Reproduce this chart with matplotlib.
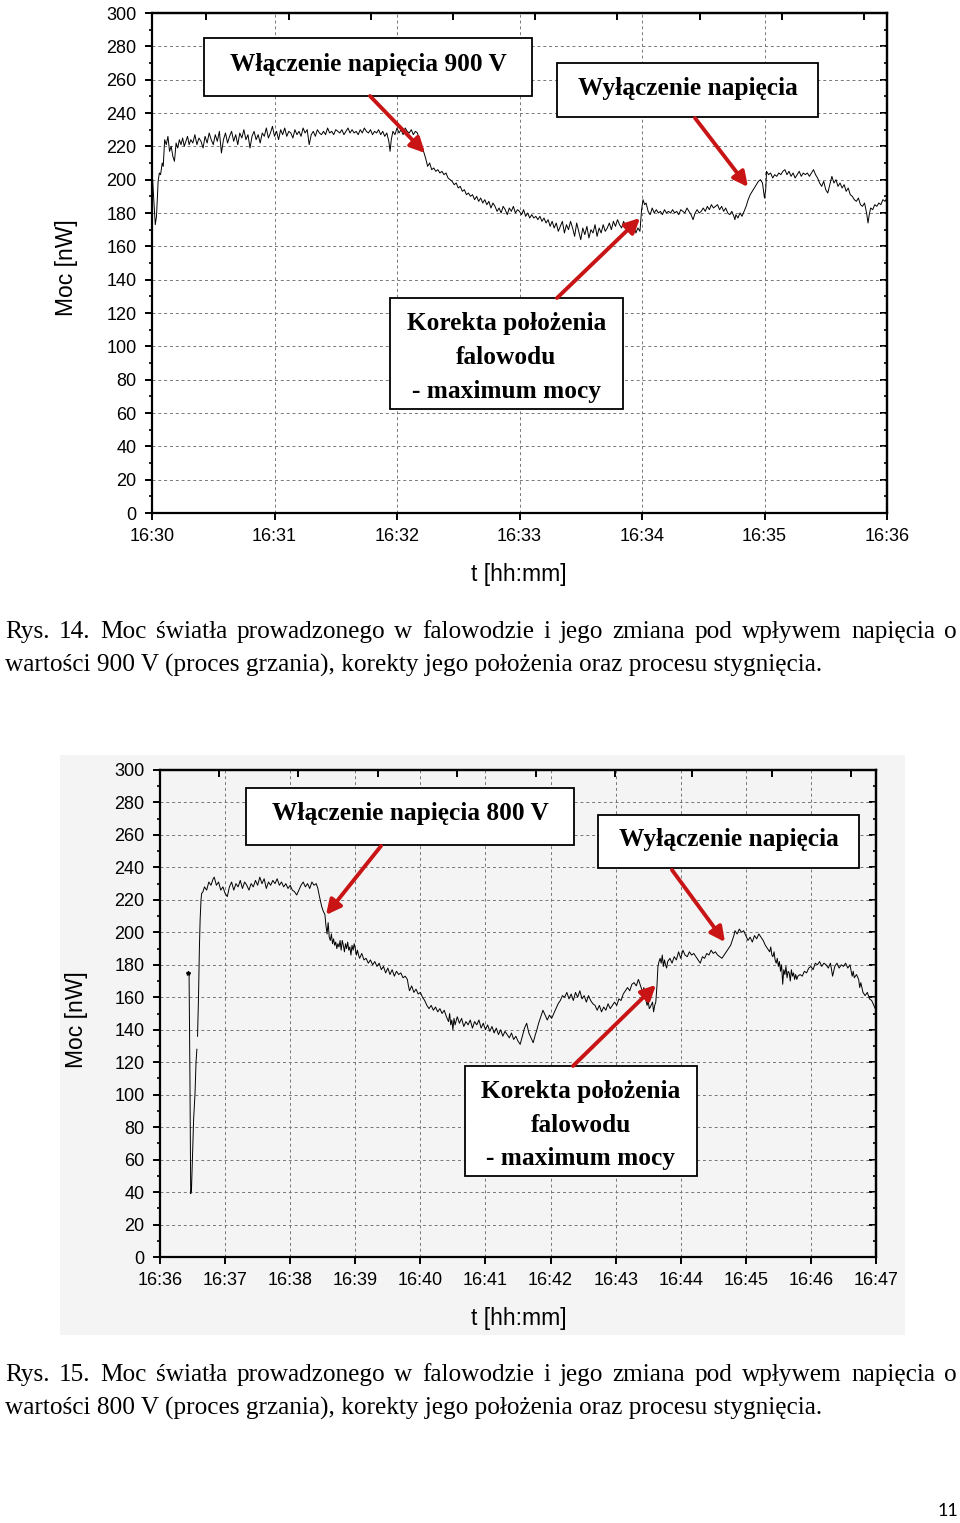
import numpy as np
import matplotlib
matplotlib.use("Agg")
import matplotlib.pyplot as plt
from matplotlib.patches import Rectangle, FancyArrowPatch

# --- data -----------------------------------------------------------------
# Fig. 14: seconds after 16:30, power in nW
top_t = [0.3, 1.0, 1.6, 2.2, 3.0, 3.6, 4.2, 5.0, 5.5, 6.2, 7.0, 7.8, 8.6, 9.4, 10.2,
         11.0, 11.8, 12.6, 13.4, 14.2, 15.0, 15.8, 16.6, 17.4, 18.2, 19, 20, 21, 22, 23,
         24, 25, 26, 27, 28, 29, 30, 31, 32, 33, 34, 35, 36, 37, 38, 39, 40, 41, 42, 43,
         44, 45, 46, 47, 48, 49, 50, 51, 52, 53, 54, 55, 56, 57, 58, 59, 60, 61, 62, 63,
         64, 65, 66, 67, 68, 69, 70, 71, 72, 73, 74, 75, 76, 77, 78, 79, 80, 81, 82, 83,
         84, 85, 86, 87, 88, 89, 90, 91, 92, 93, 94, 95, 96, 97, 98, 99, 100, 101, 102,
         103, 104, 105, 106, 107, 108, 109, 110, 111, 112, 113, 114, 115, 116, 116.6,
         117.2, 118, 119, 120, 121, 122, 123, 124, 125, 126, 127, 128, 129, 130, 131, 132,
         133, 134, 135, 136, 137, 138, 139, 140, 141, 142, 143, 144, 145, 146, 147, 148,
         149, 150, 151, 152, 153, 154, 155, 156, 157, 158, 159, 160, 161, 162, 163, 164,
         165, 166, 167, 168, 169, 170, 171, 172, 173, 174, 175, 176, 177, 178, 179, 180,
         181, 182, 183, 184, 185, 186, 187, 188, 189, 190, 191, 192, 193, 194, 195, 196,
         197, 198, 199, 200, 201, 202, 203, 204, 205, 206, 207, 208, 209, 210, 211, 212,
         213, 214, 215, 216, 217, 218, 219, 220, 221, 222, 223, 224, 225, 226, 227, 228,
         229, 230, 231, 232, 233, 234, 235, 236, 237, 238, 239, 239.8, 240.5, 241.3, 242,
         243, 244, 245, 246, 247, 248, 249, 250, 251, 252, 253, 254, 255, 256, 257, 258,
         259, 260, 261, 262, 263, 264, 265, 266, 267, 268, 269, 270, 271, 272, 273, 274,
         275, 276, 277, 278, 279, 280, 281, 282, 283, 284, 285, 285.5, 286, 287, 288, 289,
         290, 291, 292, 293, 294, 295, 296, 297, 298, 299, 300, 300.6, 301, 302, 303, 304,
         305, 306, 307, 308, 309, 310, 311, 312, 313, 314, 315, 316, 317, 318, 319, 320,
         321, 322, 323, 324, 325, 326, 327, 328, 329, 330, 331, 332, 333, 334, 335, 336,
         337, 338, 339, 340, 341, 342, 343, 344, 345, 346, 347, 348, 349, 350, 350.7,
         351.3, 352, 353, 354, 355, 356, 357, 358, 359, 360]
top_p = [200, 186, 173, 178, 199, 204, 203, 210, 208, 224, 221, 226, 217, 220, 214,
         211, 222, 219, 224, 221, 225, 220, 223, 226, 221, 224, 222, 227, 221, 225,
         223, 219, 226, 222, 228, 224, 221, 227, 223, 229, 216, 224, 228, 222, 226, 229, 223, 227, 221, 228,
         225, 230, 224, 227, 219, 226, 229, 224, 227, 222, 228, 226, 231, 225, 228, 232, 226, 229, 224, 230,
         227, 231, 226, 229, 228, 225, 230, 227, 229, 226, 231, 228, 230, 221, 227, 229, 226, 230, 228, 227,
         229, 227, 231, 228, 229, 227, 230, 229, 228, 230, 227, 229, 231, 228, 230, 228, 229, 227, 230,
         228, 231, 229, 228, 230, 227, 229, 228, 230, 227, 229, 226, 228, 223, 217,
         224, 229, 227, 231, 228, 230, 227, 231, 229, 228, 230, 227, 229, 228, 224, 220,
         217, 213, 208, 210, 206, 207, 205, 206, 204, 205, 203, 204, 201, 200, 199, 197,
         198, 195, 196, 193, 194, 191, 192, 190, 191, 188, 190, 187, 189, 186, 188, 185,
         187, 183, 186, 184, 181, 183, 180, 184, 182, 179, 183, 181, 184, 180, 182, 181,
         179, 182, 178, 180, 177, 179, 177, 178, 176, 178, 175, 177, 174, 176, 172, 175,
         171, 174, 169, 172, 175, 168, 173, 170, 175, 171, 166, 174, 169, 164, 171, 167,
         172, 165, 170, 168, 173, 166, 171, 168, 173, 169, 171, 174, 170, 175, 172, 176,
         173, 171, 175, 172, 169, 173, 170, 172, 168, 171, 169, 182, 188, 185, 186,
         181, 179, 183, 180, 182, 180, 181, 179, 182, 180, 181, 180, 182, 180, 181, 179,
         182, 181, 180, 183, 181, 179, 176, 180, 182, 180, 181, 183, 181, 184, 182, 185,
         183, 184, 185, 182, 184, 181, 183, 180, 179, 181, 178, 176, 179, 177, 180, 178,
         181, 184, 188, 191, 193, 195, 197, 199, 200, 198, 189, 194, 205, 203, 204, 201,
         203, 202, 204, 203, 205, 206, 203, 205, 202, 204, 201, 203, 205, 202, 204, 203,
         204, 202, 204, 206, 203, 201, 198, 196, 199, 194, 192, 197, 202, 198, 200, 196,
         198, 195, 197, 193, 195, 191, 190, 188, 187, 189, 185, 184, 186, 180, 174,
         179, 183, 182, 185, 184, 186, 185, 188, 187, 189]

# Fig. 15: seconds after 16:36, power in nW (nan = break in the trace)
bot_t = [26.1, 26.8, 27.6, 28.3, 29.0, 30.0, 31.0, 32.3, 33.2, 34.0, 34.3,
         34.6, 35.5, 36.3, 37.0, 37.8, 38.4, 39.6, 41, 43, 45, 47, 49, 50, 52, 54, 56, 58,
         60, 62, 64, 66, 68, 70, 72, 74, 76, 78, 80, 82, 84, 86, 88, 90, 92, 94, 96, 98,
         100, 102, 104, 106, 108, 110, 112, 114, 116, 118, 120, 122, 124, 126, 128, 130,
         132, 134, 136, 138, 140, 142, 144, 145.5, 147, 149, 150.5, 152, 153, 154, 155,
         156, 157, 158, 159, 160, 161, 162, 163, 164, 165, 166, 167, 168, 169, 170, 171,
         172, 173, 174, 175, 176, 177, 178, 179, 180, 181, 182, 183, 184, 186, 188, 190,
         192, 194, 196, 198, 200, 202, 204, 206, 208, 210, 212, 214, 216, 218, 220, 222,
         224, 226, 228, 229, 230, 232, 234, 236, 238, 240, 242, 244, 246, 248, 250, 252,
         254, 256, 258, 260, 262, 264, 266, 267, 268, 269, 270, 271, 272, 274, 276, 278,
         280, 282, 284, 286, 288, 290, 292, 294, 296, 298, 300, 302, 304, 306, 308, 310,
         312, 314, 316, 318, 320, 322, 324, 326, 328, 330, 332, 334, 336, 338, 340, 342,
         344, 346, 347, 349, 351, 353, 355, 357, 359, 361, 363, 365, 367, 369, 371, 373,
         375, 377, 379, 381, 383, 385, 387, 389, 391, 393, 395, 397, 399, 401, 403, 405,
         407, 409, 411, 413, 415, 417, 419, 421, 423, 425, 427, 429, 431, 433, 435, 437,
         439, 441, 443, 445, 446, 447, 448, 449, 450, 451, 452, 454, 455, 456, 457, 458,
         459, 460, 461, 462, 463, 464, 465, 466, 467, 468, 470, 472, 474, 476, 478, 480,
         482, 484, 486, 488, 490, 492, 494, 496, 498, 500, 502, 504, 506, 508, 510, 512,
         514, 516, 518, 520, 522, 524, 526, 527, 528, 529, 530, 532, 534, 536, 538, 540,
         542, 544, 546, 548, 550, 552, 554, 556, 558, 560, 562, 563, 564, 565, 566, 567,
         568, 569, 570, 571, 572, 573, 574, 575, 576, 577, 578, 579, 580, 581, 582, 583,
         584, 585, 586, 587, 588, 590, 592, 594, 596, 598, 600, 602, 604, 606, 608, 610,
         612, 614, 616, 618, 620, 621, 622, 624, 626, 628, 630, 632, 634, 636, 638, 639,
         640, 642, 644, 645, 646, 648, 650, 652, 654, 656, 658, 660]
bot_p = [175, 174, 110, 39, 41, 62, 85, 101, 120, 128, np.nan,
         136, 160, 190, 208, 220, 224, 225, 228, 226, 231, 229, 233, 234, 229, 231, 226, 228,
         224, 222, 228, 231, 226, 230, 228, 232, 227, 231, 229, 226, 230, 228, 232, 229, 234, 230, 233, 227,
         231, 229, 232, 230, 233, 229, 231, 228, 230, 227, 229, 226, 225, 223, 226, 229,
         231, 228, 230, 227, 231, 229, 230, 227, 222, 216, 213, 211, 204, 199, 206,
         197, 195, 199, 193, 196, 192, 194, 190, 193, 191, 195, 189, 195, 192, 188, 193,
         190, 194, 189, 191, 186, 192, 189, 193, 190, 186, 189, 186, 184, 187, 183, 184,
         181, 183, 180, 182, 179, 181, 177, 179, 175, 178, 174, 177, 173, 176, 174, 175,
         172, 173, 171, 167, 164, 167, 163, 165, 162, 163, 160, 158, 155, 153, 155, 152,
         154, 151, 153, 150, 152, 148, 145, 150, 143, 146, 140, 147, 143, 148, 144, 147,
         142, 145, 143, 146, 141, 145, 143, 146, 141, 144, 140, 143, 139, 142, 138, 141,
         137, 140, 136, 139, 137, 135, 138, 134, 136, 133, 131, 136, 141, 144, 138, 135,
         132, 137, 139, 144, 148, 152, 149, 146, 149, 147, 150, 153, 156, 158, 161, 160,
         163, 159, 162, 158, 163, 160, 164, 159, 161, 157, 161, 158, 156, 155, 152, 155,
         151, 154, 152, 156, 153, 155, 157, 155, 159, 158, 162, 164, 166, 164, 168, 169,
         167, 171, 167, 163, 166, 160, 158, 155, 158, 153, 154, 157, 151, 155, 157, 166,
         179, 182, 184, 181, 186, 179, 183, 180, 178, 182, 184, 181, 185, 183, 188, 184,
         189, 186, 185, 188, 186, 187, 185, 183, 181, 185, 184, 187, 186, 189, 187, 188,
         186, 185, 184, 186, 188, 190, 192, 194, 196, 198, 201, 199, 202, 200, 201, 198,
         195, 197, 194, 198, 196, 199, 197, 195, 192, 190, 188, 191, 186, 185, 188, 183,
         181, 184, 179, 182, 176, 180, 168, 177, 174, 179, 172, 176, 175, 170, 177, 173,
         175, 171, 174, 171, 173, 174, 173, 176, 175, 178, 179, 177, 181, 180, 182, 179,
         181, 180, 178, 181, 173, 176, 179, 181, 178, 180, 179, 181, 178, 180, 173, 176,
         172, 174, 171, 166, 169, 163, 161, 163, 159, 158, 155, 152]

top_labels = ["16:30", "16:31", "16:32", "16:33", "16:34", "16:35", "16:36"]
bot_labels = ["16:36", "16:37", "16:38", "16:39", "16:40", "16:41", "16:42",
              "16:43", "16:44", "16:45", "16:46", "16:47"]
y_ticks = [0, 20, 40, 60, 80, 100, 120, 140, 160, 180, 200, 220, 240, 260, 280, 300]

W, H = 960, 1523
RED = "#c81414"
SANS = ["Liberation Sans", "DejaVu Sans"]
SERIF = ["Liberation Serif", "DejaVu Serif"]


def fx(px):
    return px / W


def fy(py):
    return 1 - py / H


fig = plt.figure(figsize=(W / 100, H / 100), dpi=100)
fig.patch.set_facecolor("white")

# faint grey scan background behind the second chart
fig.patches.append(Rectangle((fx(60), fy(1335)), fx(905) - fx(60), fy(755) - fy(1335),
                             transform=fig.transFigure, facecolor="#f4f4f4",
                             edgecolor="none", zorder=-5))


def make_axes(box, labels, top_ticks):
    l, r, t, b = box
    ax = fig.add_axes([fx(l), fy(b), fx(r) - fx(l), fy(t) - fy(b)])
    ax.set_facecolor("none")
    n = len(labels) - 1
    ax.set_xlim(0, n)
    ax.set_ylim(0, 300)
    ax.set_xticks(range(n + 1))
    ax.set_xticklabels(labels)
    ax.set_yticks(y_ticks)
    ax.set_yticks(range(10, 300, 20), minor=True)
    for s in ax.spines.values():
        s.set_linewidth(1.6)
    ax.grid(True, which="major", color="#777777", linestyle=(0, (3, 3)), linewidth=0.7)
    ax.tick_params(axis="both", which="major", direction="out", length=5, width=1.4,
                   labelsize=13, pad=6)
    ax.tick_params(axis="y", which="minor", direction="out", length=2.5, width=1.2)
    for lab in ax.get_xticklabels() + ax.get_yticklabels():
        lab.set_family(SANS)
    ax.tick_params(axis="x", pad=6)

    sec = ax.secondary_yaxis("right")
    sec.set_yticks(y_ticks)
    sec.set_yticks(range(10, 300, 20), minor=True)
    sec.tick_params(which="major", direction="in", length=5, width=1.4, labelright=False)
    sec.tick_params(which="minor", direction="in", length=2.5, width=1.2)
    sec.spines["right"].set_linewidth(1.6)

    topx = ax.secondary_xaxis("top")
    topx.set_xticks(top_ticks)
    topx.tick_params(direction="in", length=5, width=1.4, labeltop=False)
    topx.spines["top"].set_linewidth(1.6)
    return ax


ax1 = make_axes((152, 887, 13, 513), top_labels,
                [0.441, 1.118, 1.788, 2.457, 3.127, 3.796, 4.473, 5.143, 5.812])
ax1.plot(np.array(top_t) / 60, top_p, color="black", linewidth=0.7)

ax2 = make_axes((160, 876, 770, 1257), bot_labels,
                [0.906, 2.120, 3.349, 4.563, 5.777, 6.990, 8.170, 9.400, 10.620])
ax2.plot(np.array(bot_t) / 60, bot_p, color="black", linewidth=0.7)
ax2.plot(bot_t[0] / 60, bot_p[0], marker="*", color="black", markersize=3)

# axis titles
for ylab_x, ylab_y, xlab_y in [(66, 268, 575), (76, 1020, 1318)]:
    fig.text(fx(ylab_x), fy(ylab_y), "Moc [nW]", rotation=90, ha="center", va="center",
             fontsize=16.5, family=SANS)
    fig.text(fx(519), fy(xlab_y), "t [hh:mm]", ha="center", va="center",
             fontsize=16.5, family=SANS)


def note(box, text, dy=0):
    l, t, r, b = box
    fig.patches.append(Rectangle((fx(l), fy(b)), fx(r) - fx(l), fy(t) - fy(b),
                                 transform=fig.transFigure, facecolor="white",
                                 edgecolor="black", linewidth=1.3, zorder=5))
    fig.text(fx((l + r) / 2), fy((t + b) / 2 + dy), text, ha="center", va="center",
             fontsize=18.3, fontweight="bold", family=SERIF, linespacing=1.6, zorder=6)


def arrow(ax, tail_px, tip_min, tip_val):
    disp_tip = ax.transData.transform((tip_min, tip_val))
    tip = fig.transFigure.inverted().transform(disp_tip)
    a = FancyArrowPatch((fx(tail_px[0]), fy(tail_px[1])), tuple(tip),
                        transform=fig.transFigure, arrowstyle="-|>", mutation_scale=22,
                        color=RED, linewidth=2.8, shrinkA=0, shrinkB=0, zorder=7)
    fig.patches.append(a)


KOREKTA = "Korekta położenia\nfalowodu\n- maximum mocy"

note((204, 38, 532, 96), "Włączenie napięcia 900 V", dy=-3)
note((557, 63, 818, 117), "Wyłączenie napięcia", dy=-2)
note((390, 298, 623, 409), KOREKTA, dy=4)
arrow(ax1, (370, 96), 2.229, 216)
arrow(ax1, (695, 118), 4.865, 195.6)
arrow(ax1, (557, 298), 3.984, 177)

note((246, 788, 574, 845), "Włączenie napięcia 800 V", dy=-3)
note((598, 815, 859, 868), "Wyłączenie napięcia", dy=-2)
note((465, 1066, 697, 1176), KOREKTA, dy=4)
arrow(ax2, (381, 846), 2.550, 210.7)
arrow(ax2, (672, 870), 8.680, 194)
arrow(ax2, (573, 1066), 7.620, 167.6)

# captions, first line justified across the page width
renderer = fig.canvas.get_renderer()
CAP_SIZE = 18.2


def justified(line, y, x0=5, x1=957, size=CAP_SIZE):
    words = line.split()
    objs = [fig.text(0, fy(y), w_, ha="left", va="center", fontsize=size, family=SERIF)
            for w_ in words]
    widths = [o.get_window_extent(renderer).width for o in objs]
    gap = (x1 - x0 - sum(widths)) / (len(words) - 1)
    x = x0
    for o, w_ in zip(objs, widths):
        o.set_x(fx(x))
        x += w_ + gap


cap_a = "Moc światła prowadzonego w falowodzie i jego zmiana pod wpływem napięcia o"
for num, volt, y in [("14", "900", 632), ("15", "800", 1375)]:
    justified(f"Rys. {num}. " + cap_a, y)
    fig.text(fx(5), fy(y + 33),
             f"wartości {volt} V (proces grzania), korekty jego położenia oraz procesu stygnięcia.",
             ha="left", va="center", fontsize=CAP_SIZE, family=SERIF)

fig.text(fx(958), fy(1511), "11", ha="right", va="center", fontsize=13,
         family=["Lato", "DejaVu Sans"])

fig.savefig("out.png", dpi=100)
